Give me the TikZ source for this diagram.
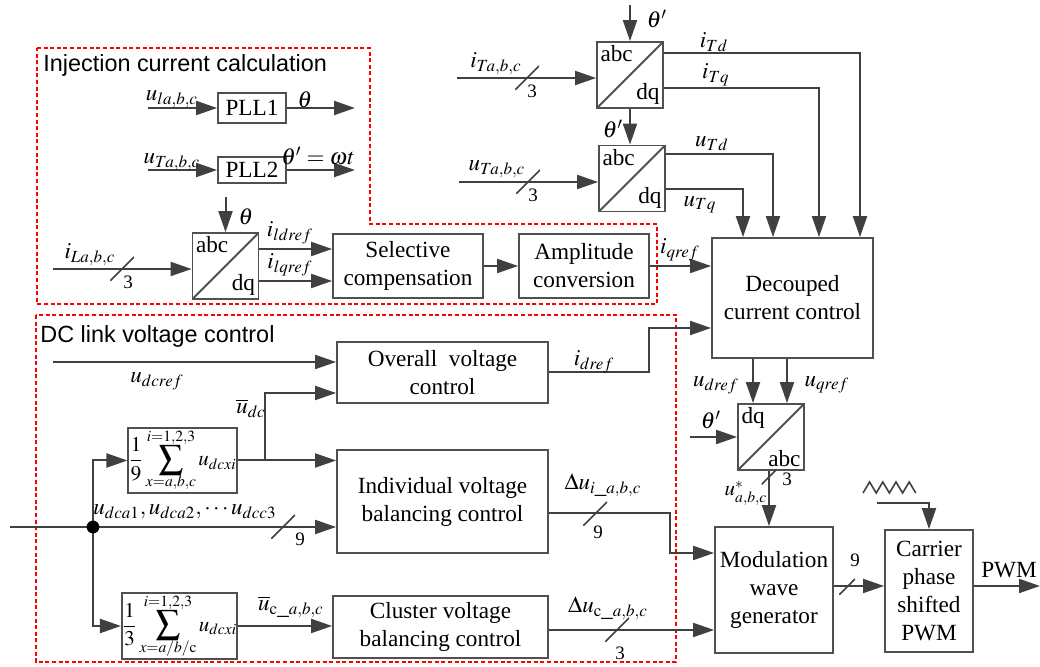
\documentclass[tikz,border=0pt]{standalone}
\usepackage{mathptmx}
\usepackage{graphicx}
\usepackage{fontspec}
\setmainfont{Liberation Serif}
\setsansfont{Liberation Sans}
\usetikzlibrary{arrows.meta,positioning}
\definecolor{linegray}{HTML}{404040}
\definecolor{boxgray}{HTML}{505050}
\definecolor{dashred}{HTML}{FF0000}
\newcommand{\bigsum}[2]{\mathop{\vcenter{\offinterlineskip\halign{\hfil##\hfil\cr
  $\scriptstyle #2$\cr\noalign{\kern.5pt}
  \scalebox{1.15}{$\displaystyle\sum$}\cr\noalign{\kern.5pt}
  $\scriptstyle #1$\cr}}}}

\begin{document}
\begin{tikzpicture}[x=0.5pt, y=-0.5pt, >={Triangle[length=10.5pt,width=7pt]}]
  \tikzstyle{box} = [rectangle, draw=boxgray, line width=.9pt, fill=white, align=center, inner sep=1pt, font=\fontsize{11.6}{14}\selectfont]
  \tikzstyle{sumbox} = [box, inner xsep=0pt, inner ysep=1.5pt, font=\fontsize{10.5}{12}\selectfont]
  \tikzstyle{wire} = [draw=linegray, line width=1pt]
  \tikzstyle{arr} = [wire, ->]
  \tikzstyle{lbl} = [inner sep=0pt, font=\fontsize{11.5}{13}\selectfont]
  \tikzstyle{num} = [inner sep=0pt, font=\fontsize{9.5}{11}\selectfont]
  \tikzstyle{slash} = [inner sep=0pt, minimum size=12pt, path picture={\draw[linegray, line width=.8pt] (path picture bounding box.south west) -- (path picture bounding box.north east);}]
  \tikzstyle{groupbox} = [draw=dashred, line width=1.2pt, dash pattern=on 2pt off 1.3pt]
  \tikzstyle{title} = [anchor=base west, inner sep=0pt, font=\sffamily\fontsize{11.7}{14}\selectfont]
  \tikzset{conv/.style 2 args={draw=boxgray, line width=.9pt, fill=white, minimum width=33pt, minimum height=33pt, inner sep=0pt,
      path picture={\draw[boxgray, line width=.9pt] (path picture bounding box.south west) -- (path picture bounding box.north east);},
      label={[anchor=north west, inner sep=2pt, font=\fontsize{11.6}{13}\selectfont]north west:#1},
      label={[anchor=south east, inner sep=2pt, font=\fontsize{11.6}{13}\selectfont]south east:#2}}}
  \useasboundingbox (0,0) rectangle (1040,667);

  % dashed groups
  \draw[groupbox] (37,48) -- (370,48) -- (370,224) -- (657,224) -- (657,304) -- (37,304) -- cycle;
  \draw[groupbox] (36,315) rectangle (676,662);
  \node[title] (t-inj) at (43,72) {Injection current calculation};
  \node[title] (t-dc) at (40,343) {DC link voltage control};

  % blocks
  \node[box, minimum width=34pt, minimum height=15pt] (pll1) at (252,108) {PLL1};
  \node[box, minimum width=34pt, minimum height=13pt] (pll2) at (252,170) {PLL2};
  \node[conv={abc}{dq}] (clk) at (225.5,266) {};
  \node[box, minimum width=75pt, minimum height=32pt] (sel) at (408,266) {Selective\\compensation};
  \node[box, minimum width=65pt, minimum height=32pt] (amp) at (584,266) {Amplitude\\conversion};
  \node[conv={abc}{dq}] (cti) at (630,75) {};
  \node[conv={abc}{dq}] (ctu) at (632,178.5) {};
  \node[box, minimum width=80.5pt, minimum height=60pt] (dcc) at (792.5,298) {Decouped\\current control};
  \node[box, minimum width=105.5pt, minimum height=30.5pt] (ovc) at (442.5,372.5) {Overall\ \ voltage\\control};
  \node[sumbox, minimum width=50.5pt, minimum height=30.5pt] (sum9) at (182.5,460.5) {$\displaystyle\frac{1}{9}\bigsum{x=a,b,c}{i=1,2,3}u_{dcxi}$};
  \node[box, minimum width=105.5pt, minimum height=51.5pt] (ivb) at (442.5,501.5) {Individual voltage\\balancing control};
  \node[sumbox, minimum width=52.5pt, minimum height=30pt] (sum3) at (179.5,626) {$\displaystyle\frac{1}{3}\bigsum{x=a/b/\mathrm{c}}{i=1,2,3}u_{dcxi}$};
  \node[box, minimum width=107.5pt, minimum height=31pt] (cvb) at (440.5,627) {Cluster voltage\\balancing control};
  \node[conv={dq}{abc}] (cdq) at (771,437) {};
  \node[box, minimum width=59pt, minimum height=63pt] (mod) at (774,590) {Modulation\\wave\\generator};
  \node[box, minimum width=44pt, minimum height=61pt] (cps) at (929,591) {Carrier\\phase\\shifted\\PWM};

  % phase locked loops
  \coordinate (ula) at (148,108);
  \coordinate (th1) at (355,108);
  \draw[arr] (ula) -- (pll1);
  \draw[arr] (pll1) -- (th1);
  \node[lbl] (l-ula) at (172,99) {$u_{la,b,c}$};
  \node[lbl] (l-th1) at (305,100) {$\theta$};
  \coordinate (uta) at (148,170);
  \coordinate (th2) at (355,170);
  \draw[arr] (uta) -- (pll2);
  \draw[arr] (pll2) -- (th2);
  \node[lbl] (l-uta) at (172,162) {$u_{Ta,b,c}$};
  \node[lbl] (l-th2) at (318,156) {$\theta'=\omega t$};

  % load current
  \coordinate (thl) at (225.5,197);
  \draw[arr] (thl) -- (clk);
  \node[lbl] (l-thl) at (246,217) {$\theta$};
  \coordinate (ila) at (53,269);
  \draw[arr] (ila) -- (ila -| clk.west);
  \node[slash] (s-ila) at (122,269) {};
  \node[num] (n-ila) at (128,282) {3};
  \node[lbl] (l-ila) at (90,255) {$i_{La,b,c}$};
  \draw[arr] (clk.east |- 0,249) -- (sel.west |- 0,249);
  \draw[arr] (clk.east |- 0,281) -- (sel.west |- 0,281);
  \node[lbl] (l-ild) at (290,233) {$i_{ldref}$};
  \node[lbl] (l-ilq) at (290,265) {$i_{lqref}$};
  \draw[arr] (sel) -- (amp);
  \draw[arr] (amp) -- (amp -| dcc.west);
  \node[lbl] (l-iq) at (680,250) {$i_{qref}$};

  % transformer current and voltage
  \coordinate (thT) at (630,5);
  \draw[arr] (thT) -- (cti);
  \node[lbl] (l-thT) at (657,19) {$\theta'$};
  \draw[arr] (cti.south) -- (cti.south |- ctu.north);
  \node[lbl] (l-thU) at (613,129) {$\theta'$};
  \coordinate (ita) at (457,78);
  \draw[arr] (ita) -- (ita -| cti.west);
  \node[slash] (s-ita) at (527,78) {};
  \node[num] (n-ita) at (532,91) {3};
  \node[lbl] (l-ita) at (496,64) {$i_{Ta,b,c}$};
  \coordinate (uta2) at (459,182);
  \draw[arr] (uta2) -- (uta2 -| ctu.west);
  \node[slash] (s-uta) at (528,182) {};
  \node[num] (n-uta) at (533,195) {3};
  \node[lbl] (l-uta2) at (497,169) {$u_{Ta,b,c}$};
  \draw[arr] (cti.east |- 0,53) -| (dcc.north -| 860,0);
  \draw[arr] (cti.east |- 0,88) -| (dcc.north -| 819,0);
  \draw[arr] (ctu.east |- 0,154) -| (dcc.north -| 773,0);
  \draw[arr] (ctu.east |- 0,189) -| (dcc.north -| 743,0);
  \node[lbl] (l-itd) at (714,42) {$i_{Td}$};
  \node[lbl] (l-itq) at (716,75) {$i_{Tq}$};
  \node[lbl] (l-utd) at (712,144) {$u_{Td}$};
  \node[lbl] (l-utq) at (700,205) {$u_{Tq}$};

  % dc link voltage control
  \coordinate (udcr) at (53,362);
  \draw[arr] (udcr) -- (udcr -| ovc.west);
  \node[lbl] (l-udcr) at (157,381) {$u_{dcref}$};
  \draw[arr] (sum9) -- (sum9 -| ivb.west);
  \coordinate (br) at (265,460.5);
  \draw[arr] (br) |- (ovc.west |- 0,393);
  \node[lbl] (l-udc) at (251,408) {$\overline{u}_{dc}$};
  \draw[arr] (ovc.east) -- ++(100,0) |- (dcc.west |- 0,328);
  \node[lbl] (l-id) at (594,362) {$i_{dref}$};
  \coordinate (udca) at (10,527);
  \coordinate (jn) at (93,527);
  \draw[wire] (udca) -- (jn);
  \draw[arr] (jn) -- (jn -| ivb.west);
  \node[slash] (s-udca) at (283,527) {};
  \node[num] (n-udca) at (300,539) {9};
  \node[lbl] (l-udca) at (185,512) {$u_{dca1}, u_{dca2}, \cdots u_{dcc3}$};
  \draw[arr] (jn) |- (sum9.west);
  \draw[arr] (jn) |- (sum3.west);
  \fill[black] (jn) circle (3.2pt);
  \draw[arr] (sum3) -- (sum3 -| cvb.west);
  \node[lbl] (l-uc) at (291,607) {$\overline{u}_{\mathrm{c}\_a,b,c}$};
  \draw[arr] (ivb.east |- 0,513) -| (670,553) -- (mod.west |- 0,553);
  \node[slash] (s-dui) at (595,514) {};
  \node[num] (n-dui) at (598,532) {9};
  \node[lbl] (l-dui) at (603,485) {$\Delta u_{i\_a,b,c}$};
  \draw[arr] (cvb.east |- 0,630) -- (mod.west |- 0,630);
  \node[slash] (s-duc) at (617,630) {};
  \node[num] (n-duc) at (620,653) {3};
  \node[lbl] (l-duc) at (608,608) {$\Delta u_{\mathrm{c}\_a,b,c}$};

  % inverse transform and modulation
  \draw[arr] (dcc.south -| 753,0) -- (cdq.north -| 753,0);
  \draw[arr] (dcc.south -| 787,0) -- (cdq.north -| 787,0);
  \node[lbl] (l-ud) at (716,385) {$u_{dref}$};
  \node[lbl] (l-uq) at (827,385) {$u_{qref}$};
  \coordinate (thd) at (690,437);
  \draw[arr] (thd) -- (cdq);
  \node[lbl] (l-thd) at (711,420) {$\theta'$};
  \draw[arr] (cdq.south -| 769,0) -- (mod.north -| 769,0);
  \node[slash, minimum size=7.5pt] (s-ustar) at (769,477) {};
  \node[num] (n-ustar) at (787,479) {3};
  \node[lbl, font=\fontsize{10.5}{12}\selectfont] (l-ustar) at (746,493) {$u^{*}_{a,b,c}$};
  \draw[arr] (mod.east |- 0,586) -- (cps.west |- 0,586);
  \node[slash, minimum size=8pt] (s-mod) at (847,587) {};
  \node[num] (n-mod) at (855,560) {9};
  \coordinate (pwm) at (1040,586);
  \draw[arr] (cps.east |- 0,586) -- (pwm);
  \node[lbl, font=\fontsize{11.6}{14}\selectfont] (l-pwm) at (1009,570) {PWM};
  \coordinate (carr) at (877,503);
  \draw[arr] (carr) -| (cps.north);
  \draw[wire, line width=.8pt] (863,493) \foreach \k in {1,...,4} { -- ++(6.6,-11) -- ++(6.6,11) };
\end{tikzpicture}
\end{document}
